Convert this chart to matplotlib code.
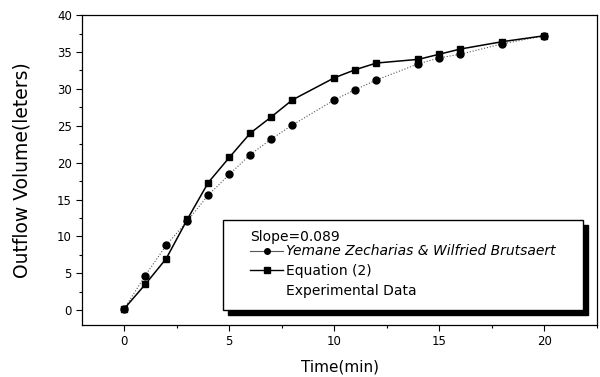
import matplotlib
matplotlib.use("Agg")
import matplotlib.pyplot as plt
from matplotlib.lines import Line2D
from matplotlib.patches import Rectangle
from matplotlib.ticker import MultipleLocator

# time in minutes
time_min = [0, 1, 2, 3, 4, 5, 6, 7, 8, 10, 11, 12, 14, 15, 16, 18, 20]
# Yemane Zecharias & Wilfried Brutsaert (circles)
yemane = [0.2, 4.7, 8.8, 12.1, 15.6, 18.4, 21.1, 23.2, 25.1, 28.5, 29.9,
          31.2, 33.4, 34.2, 34.7, 36.1, 37.2]
# Equation (2) (squares)
equation2 = [0.2, 3.5, 7.0, 12.3, 17.3, 20.7, 24.0, 26.2, 28.5, 31.5, 32.6,
             33.5, 34.0, 34.7, 35.4, 36.4, 37.2]
# experimental data (only the starting point is visible)
exp_time = [0]
exp_vol = [0.2]

slope_text = "Slope=0.089"
labels = ["Yemane Zecharias & Wilfried Brutsaert", "Equation (2)",
          "Experimental Data"]

fig = plt.figure(figsize=(6.0, 3.77), dpi=100)
ax = fig.add_axes([0.137, 0.138, 0.858, 0.822])

ax.plot(time_min, yemane, color='#555555', lw=0.8, ls=':', marker='o',
        ms=5, mfc='black', mec='black')
ax.plot(time_min, equation2, color='black', lw=1.1, ls='-', marker='s',
        ms=5, mfc='black', mec='black')
ax.plot(exp_time, exp_vol, ls='none', marker='.', ms=2, color='black')

ax.set_xlim(-2, 22.5)
ax.set_ylim(-2, 40)
ax.xaxis.set_major_locator(MultipleLocator(5))
ax.xaxis.set_minor_locator(MultipleLocator(2.5))
ax.yaxis.set_major_locator(MultipleLocator(5))
ax.yaxis.set_minor_locator(MultipleLocator(2.5))
ax.tick_params(which='major', direction='out', length=4, width=0.8, labelsize=8.5)
ax.tick_params(which='minor', direction='out', length=2, width=0.8)
for s in ax.spines.values():
    s.set_linewidth(0.9)

ax.set_xlabel("Time(min)", fontsize=11, labelpad=8)
ax.set_ylabel("Outflow Volume(leters)", fontsize=13.5, labelpad=18)

# legend box with a solid black drop shadow
bx0, by0, bw, bh = 0.274, 0.048, 0.699, 0.291
ax.add_patch(Rectangle((bx0 + 0.0097, by0 - 0.016), bw, bh, transform=ax.transAxes,
                       facecolor='black', edgecolor='black', zorder=5))
ax.add_patch(Rectangle((bx0, by0), bw, bh, transform=ax.transAxes,
                       facecolor='white', edgecolor='black', lw=1.0, zorder=6))

ax.text(0.326, 0.284, slope_text, transform=ax.transAxes, fontsize=10,
        va='center', ha='left', zorder=7)

handles = [
    Line2D([], [], color='#555555', lw=0.8, marker='o', ms=4, mfc='black', mec='black'),
    Line2D([], [], color='black', lw=1.0, marker='s', ms=4.5, mfc='black', mec='black'),
    Line2D([], [], ls='none'),
]
leg = ax.legend(handles, labels, loc='upper left', bbox_to_anchor=(0.326, 0.26),
                frameon=False, fontsize=10, handlelength=2.4, handletextpad=0.2,
                borderpad=0, borderaxespad=0, labelspacing=0.4)
leg.set_zorder(8)
leg.get_texts()[0].set_fontstyle('italic')

fig.savefig("out.png", dpi=100)
